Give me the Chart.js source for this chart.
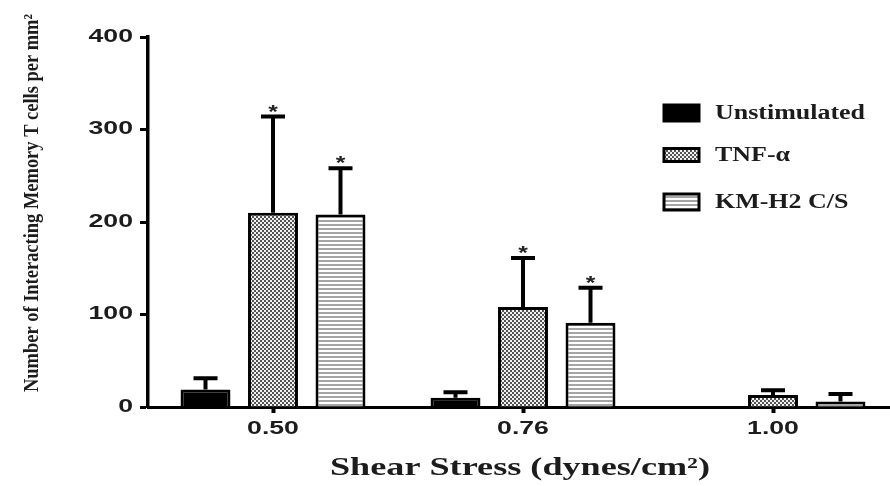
<!DOCTYPE html>
<html>
<head>
<meta charset="utf-8">
<script src="https://cdn.jsdelivr.net/npm/chart.js@4/dist/chart.umd.min.js"></script>
<style>
  html, body { margin: 0; padding: 0; background: #fff; overflow: hidden; }
  #wrap { width: 900px; height: 486px; }
</style>
</head>
<body>
<div id="wrap"><canvas id="chart"></canvas></div>
<script>
// Data
const shearStress = ['0.50', '0.76', '1.00'];
const unstimulated = [19, 10, 0];
const unstimulatedErr = [12, 6, 0];
const tnfAlpha = [210, 108, 13];
const tnfAlphaErr = [104, 53, 5];
const kmH2 = [208, 91, 6];
const kmH2Err = [50, 38, 8];
// significance markers (*)
const tnfAlphaSig = [true, true, false];
const kmH2Sig = [true, true, false];
const yTicks = [0, 100, 200, 300, 400];

const yTitle = 'Number of Interacting Memory T cells per mm\u00B2';
const xTitle = 'Shear Stress (dynes/cm\u00B2)';

// the original figure is stretched sideways, so text is drawn widened
const STRETCH = 1.48;
const textColor = '#1c1c1c';

function stretchedText(ctx, text, x, y, font, align, sx) {
    ctx.save();
    ctx.font = font;
    ctx.fillStyle = textColor;
    ctx.textBaseline = 'middle';
    const w = ctx.measureText(text).width * sx;
    let left = x;
    if (align === 'center') left = x - w / 2;
    if (align === 'right') left = x - w;
    ctx.translate(left, y);
    ctx.scale(sx, 1);
    ctx.textAlign = 'left';
    ctx.fillText(text, 0, 0);
    ctx.restore();
}

// hatch-like fills
function makePattern(kind) {
    const c = document.createElement('canvas');
    c.width = 4; c.height = 4;
    const g = c.getContext('2d');
    if (kind === 'check') {
        g.fillStyle = '#f0f0f0'; g.fillRect(0, 0, 4, 4);
        g.fillStyle = '#555'; g.fillRect(0, 0, 2, 2); g.fillRect(2, 2, 2, 2);
    } else {
        g.fillStyle = '#fff'; g.fillRect(0, 0, 4, 4);
        g.fillStyle = '#a5a5a5'; g.fillRect(0, 0, 4, 2);
    }
    return g.createPattern(c, 'repeat');
}

const errorBars = {
    id: 'errorBars',
    afterDatasetsDraw(chart) {
        const ctx = chart.ctx, y = chart.scales.y;
        chart.data.datasets.forEach((ds, di) => {
            const meta = chart.getDatasetMeta(di);
            meta.data.forEach((bar, i) => {
                const err = ds.errors[i];
                if (!err) return;
                const top = y.getPixelForValue(ds.data[i] + err);
                ctx.save();
                ctx.strokeStyle = '#000';
                ctx.lineWidth = 4;
                ctx.beginPath();
                ctx.moveTo(bar.x, bar.y);
                ctx.lineTo(bar.x, top);
                ctx.moveTo(bar.x - 12, top);
                ctx.lineTo(bar.x + 12, top);
                ctx.stroke();
                if (ds.sig && ds.sig[i]) {
                    ctx.fillStyle = '#222';
                    ctx.font = 'bold 19px "Liberation Sans"';
                    ctx.textAlign = 'center';
                    ctx.textBaseline = 'alphabetic';
                    ctx.translate(bar.x, top + 1);
                    ctx.scale(1.3, 1);
                    ctx.fillText('*', 0, 0);
                }
                ctx.restore();
            });
        });
    }
};

const axisText = {
    id: 'axisText',
    afterDraw(chart) {
        const ctx = chart.ctx;
        const xs = chart.scales.x, ys = chart.scales.y;
        const tickFont = 'bold 18px "Liberation Sans"';
        ys.ticks.forEach(t => {
            stretchedText(ctx, String(t.value), 133, ys.getPixelForValue(t.value), tickFont, 'right', STRETCH);
        });
        xs.ticks.forEach((t, i) => {
            stretchedText(ctx, shearStress[i], xs.getPixelForTick(i), 429, tickFont, 'center', STRETCH);
        });

        // x title, fitted to the width seen in the figure
        ctx.save();
        const xf = 'bold 25px "Liberation Serif"';
        ctx.font = xf;
        const xw = ctx.measureText(xTitle).width;
        ctx.restore();
        stretchedText(ctx, xTitle, 520, 469, xf, 'center', 380 / xw);

        // y title, condensed along its length
        ctx.save();
        ctx.font = 'bold 22px "Liberation Serif"';
        const w = ctx.measureText(yTitle).width;
        ctx.translate(38, 392);
        ctx.rotate(-Math.PI / 2);
        ctx.scale(378 / w, 1);
        ctx.fillStyle = textColor;
        ctx.textAlign = 'left';
        ctx.textBaseline = 'alphabetic';
        ctx.fillText(yTitle, 0, 0);
        ctx.restore();
    }
};

const legendBox = {
    id: 'legendBox',
    afterDraw(chart) {
        const ctx = chart.ctx;
        const rows = [113, 155, 202];
        const boxH = [16, 13, 16];
        const font = 'bold 20px "Liberation Serif"';
        ctx.save();
        ctx.font = font;
        const sx = 150 / ctx.measureText(chart.data.datasets[0].label).width;
        ctx.restore();
        chart.data.datasets.forEach((ds, i) => {
            const cy = rows[i], h = boxH[i];
            ctx.save();
            ctx.fillStyle = ds.backgroundColor;
            ctx.fillRect(664, cy - h / 2, 35, h);
            ctx.strokeStyle = '#000';
            ctx.lineWidth = 3;
            ctx.strokeRect(664, cy - h / 2, 35, h);
            ctx.restore();
            stretchedText(ctx, ds.label, 715, cy + 1, font, 'left', sx);
        });
    }
};

const ctx = document.getElementById('chart').getContext('2d');
new Chart(ctx, {
    type: 'bar',
    data: {
        labels: shearStress,
        datasets: [
            { label: 'Unstimulated', data: unstimulated, errors: unstimulatedErr,
              backgroundColor: '#000', borderColor: '#000', borderWidth: 3 },
            { label: 'TNF-\u03B1', data: tnfAlpha, errors: tnfAlphaErr, sig: tnfAlphaSig,
              backgroundColor: makePattern('check'), borderColor: '#000', borderWidth: 3 },
            { label: 'KM-H2 C/S', data: kmH2, errors: kmH2Err, sig: kmH2Sig,
              backgroundColor: makePattern('lines'), borderColor: '#000', borderWidth: 3 }
        ]
    },
    options: {
        responsive: true,
        maintainAspectRatio: false,
        animation: false,
        categoryPercentage: 0.81,
        barPercentage: 0.74,
        layout: { padding: { top: 37, right: 2, left: 0, bottom: 0 } },
        plugins: {
            legend: { display: false },
            tooltip: { enabled: false }
        },
        scales: {
            x: {
                afterFit: s => { s.height = 79; },
                border: { display: true, color: '#000', width: 3 },
                grid: { display: true, drawOnChartArea: false, drawTicks: true, offset: false,
                        tickLength: 6, tickWidth: 4, tickColor: '#000' },
                ticks: { display: false }
            },
            y: {
                min: 0, max: 400,
                afterFit: s => { s.width = 148; },
                afterBuildTicks: s => { s.ticks = yTicks.map(v => ({ value: v })); },
                border: { display: true, color: '#000', width: 3.5 },
                grid: { display: true, drawOnChartArea: false, drawTicks: true,
                        tickLength: 8, tickWidth: 3, tickColor: '#000' },
                ticks: { display: false }
            }
        }
    },
    plugins: [errorBars, axisText, legendBox]
});
</script>
</body>
</html>
